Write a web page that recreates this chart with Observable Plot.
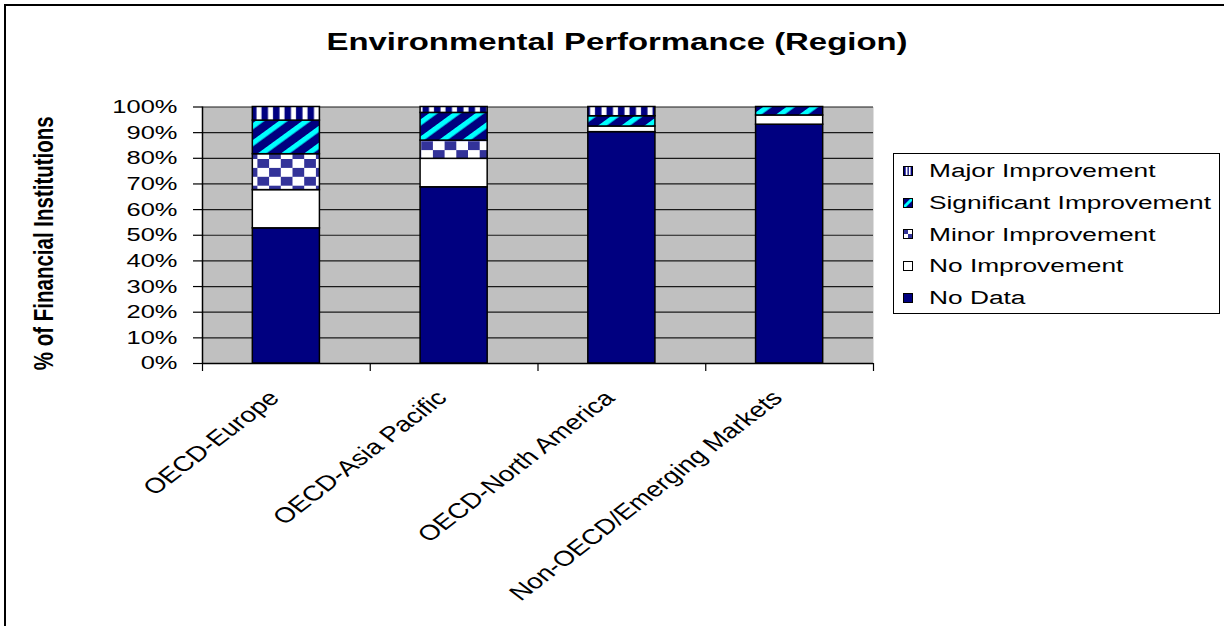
<!DOCTYPE html>
<html>
<head>
<meta charset="utf-8">
<script src="https://cdn.jsdelivr.net/npm/d3@7"></script>
<script src="https://cdn.jsdelivr.net/npm/@observablehq/plot@0.6"></script>
<style>
  html, body { margin: 0; padding: 0; background: #fff; }
  #wrap { position: relative; width: 1224px; height: 626px; overflow: hidden; font-family: "Liberation Sans", Arial, sans-serif; color: #000; }
  #border { position: absolute; left: 4px; top: 4px; width: 1400px; height: 800px; border-left: 2.5px solid #000; border-top: 2px solid #000; }
  #title { position: absolute; top: 29.6px; left: 616.5px; font-size: 24px; line-height: 24px; font-weight: bold; white-space: nowrap; transform: translateX(-50%) scaleX(1.37); transform-origin: center; }
  #chart { position: absolute; left: 0; top: 70px; }
  #legend { position: absolute; left: 893px; top: 153px; width: 327px; height: 161px; box-sizing: border-box; border: 1.5px solid #000; background: #fff; }
  .row { position: absolute; left: 0; height: 31.6px; width: 100%; }
  .row svg { position: absolute; left: 8.8px; top: 10.8px; }
  .row span { position: absolute; left: 34.8px; top: 0; line-height: 31.6px; font-size: 19.2px; white-space: nowrap; transform: scaleX(1.37); transform-origin: left center; }
</style>
</head>
<body>
<div id="wrap">
  <div id="border"></div>
  <div id="title">Environmental Performance (Region)</div>
  <div id="chart"></div>
  <div id="legend"></div>
</div>
<script>
// ---- data ----
const categories = ["OECD-Europe", "OECD-Asia Pacific", "OECD-North America", "Non-OECD/Emerging Markets"];
const series = ["No Data", "No Improvement", "Minor Improvement", "Significant Improvement", "Major Improvement"];
const noData = [52.7, 68.7, 90.2, 93.1];
const noImprovement = [14.9, 11.1, 2.2, 3.6];
const minorImprovement = [14.0, 7.1, 0, 0];
const significantImprovement = [13.1, 10.8, 4.0, 3.3];
const majorImprovement = [5.3, 2.3, 3.6, 0];
const yTicks = [0, 10, 20, 30, 40, 50, 60, 70, 80, 90, 100];
const yLabel = "% of Financial Institutions";

const seriesValues = [noData, noImprovement, minorImprovement, significantImprovement, majorImprovement];
const patternIds = ["pNoData", "pNoImp", "pMinor", "pSig", "pMajor"];
const NAVY = "#000080", CYAN = "#00ffff", BLUE = "#333399";
const STRETCH = 1.37;
const XLABEL_STRETCH = 1.3;

const rows = [];
categories.forEach((c, i) => {
  let base = 0;
  seriesValues.forEach((vals, s) => {
    const v = vals[i];
    if (v > 0) rows.push({region: c, i, series: series[s], y1: base, y2: base + v});
    base += v;
  });
});

const chart = Plot.plot({
  width: 1224,
  height: 556,
  marginTop: 36.5,
  marginBottom: 263,
  marginLeft: 202,
  marginRight: 351,
  style: {fontFamily: "'Liberation Sans', Arial, sans-serif", color: "#000", background: "transparent", overflow: "visible"},
  x: {domain: [0, categories.length], axis: null},
  y: {domain: [0, 100], axis: null},
  color: {type: "ordinal", domain: series, range: patternIds.map(id => `url(#${id})`)},
  marks: [
    Plot.frame({fill: "#c0c0c0", stroke: "none"}),
    Plot.gridY(yTicks.slice(1), {stroke: "#1a1a1a", strokeOpacity: 1, strokeWidth: 1.2}),
    Plot.rect(rows, {
      x1: d => d.i + 0.3,
      x2: d => d.i + 0.7,
      y1: "y1",
      y2: "y2",
      fill: "series",
      stroke: "#000",
      strokeWidth: 1.5
    }),
    Plot.ruleX([0], {stroke: "#000", strokeWidth: 1.5}),
    Plot.ruleY([0], {stroke: "#000", strokeWidth: 1.5}),
    Plot.axisY(yTicks, {tickFormat: d => d + "%", tickSize: 9, tickPadding: 16, fontSize: 18.6, label: null, stroke: "#000", strokeWidth: 1.2}),
    Plot.axisX(d3.range(categories.length + 1), {tickFormat: () => "", tickSize: 8, label: null, stroke: "#000", strokeWidth: 1.2}),
    Plot.text(categories, {
      x: (d, i) => i + 0.5,
      y: () => 0,
      text: d => d,
      rotate: -45,
      textAnchor: "end",
      lineAnchor: "middle",
      dx: -12,
      dy: 31,
      fontSize: 21.3,
      fill: "#000",
      className: "xlab"
    }),
    Plot.text([yLabel], {
      frameAnchor: "left",
      text: d => d,
      rotate: -90,
      textAnchor: "middle",
      lineAnchor: "middle",
      dx: -158,
      dy: 8,
      fontSize: 20.5,
      fontWeight: "bold",
      fill: "#000"
    })
  ]
});

// patterns
const svgSel = d3.select(chart);
const defs = svgSel.insert("defs", ":first-child");
const p1 = defs.append("pattern").attr("id", "pNoData").attr("patternUnits", "userSpaceOnUse").attr("width", 10).attr("height", 10);
p1.append("rect").attr("width", 10).attr("height", 10).attr("fill", NAVY);
const p2 = defs.append("pattern").attr("id", "pNoImp").attr("patternUnits", "userSpaceOnUse").attr("width", 10).attr("height", 10);
p2.append("rect").attr("width", 10).attr("height", 10).attr("fill", "#fff");
const p3 = defs.append("pattern").attr("id", "pMinor").attr("patternUnits", "userSpaceOnUse").attr("width", 23.4).attr("height", 17.8);
p3.append("rect").attr("width", 23.4).attr("height", 17.8).attr("fill", "#fff");
p3.append("rect").attr("width", 11.7).attr("height", 8.9).attr("fill", BLUE);
p3.append("rect").attr("x", 11.7).attr("y", 8.9).attr("width", 11.7).attr("height", 8.9).attr("fill", BLUE);
const p4 = defs.append("pattern").attr("id", "pSig").attr("patternUnits", "userSpaceOnUse").attr("width", 12).attr("height", 12)
  .attr("patternTransform", `scale(${STRETCH},1) rotate(45)`);
p4.append("rect").attr("width", 12).attr("height", 12).attr("fill", NAVY);
p4.append("rect").attr("width", 4.5).attr("height", 12).attr("fill", CYAN);
const p5 = defs.append("pattern").attr("id", "pMajor").attr("patternUnits", "userSpaceOnUse").attr("width", 11.5).attr("height", 10);
p5.append("rect").attr("width", 11.5).attr("height", 10).attr("fill", NAVY);
p5.append("rect").attr("x", 3.5).attr("width", 5).attr("height", 10).attr("fill", "#fff");

// horizontal stretch of the text to match the reference
chart.querySelectorAll("text").forEach(t => {
  const inX = t.closest(".xlab") !== null;
  const k = inX ? XLABEL_STRETCH : STRETCH;
  const tr = t.getAttribute("transform");
  if (tr && /^translate\([^)]*\)/.test(tr)) {
    t.setAttribute("transform", tr.replace(/^(translate\([^)]*\))/, `$1 scale(${k},1)`));
  } else {
    const x = +(t.getAttribute("x") || 0), y = +(t.getAttribute("y") || 0);
    t.setAttribute("transform", `translate(${x},${y}) scale(${k},1) translate(${-x},${-y})${tr ? " " + tr : ""}`);
  }
});

document.getElementById("chart").appendChild(chart);

// legend (top to bottom: reverse of stacking order)
const swatch = {
  "Major Improvement": `<rect width="9" height="9" fill="${NAVY}"/><rect x="2.2" width="1.8" height="9" fill="#fff"/><rect x="5.3" width="1.8" height="9" fill="#fff"/>`,
  "Significant Improvement": `<rect width="9" height="9" fill="${NAVY}"/><polygon points="0,7 7,0 9,0 9,2 2,9 0,9" fill="${CYAN}"/>`,
  "Minor Improvement": `<rect width="9" height="9" fill="#fff"/><rect width="4.5" height="4.5" fill="${BLUE}"/><rect x="4.5" y="4.5" width="4.5" height="4.5" fill="${BLUE}"/>`,
  "No Improvement": `<rect width="9" height="9" fill="#fff"/>`,
  "No Data": `<rect width="9" height="9" fill="${NAVY}"/>`
};
const legend = document.getElementById("legend");
series.slice().reverse().forEach((s, k) => {
  const row = document.createElement("div");
  row.className = "row";
  row.style.top = (1.4 + 31.6 * k) + "px";
  row.innerHTML = `<svg width="10" height="10" viewBox="-0.5 -0.5 10 10">${swatch[s]}<rect width="9" height="9" fill="none" stroke="#000" stroke-width="1"/></svg><span>${s}</span>`;
  legend.appendChild(row);
});
</script>
</body>
</html>
